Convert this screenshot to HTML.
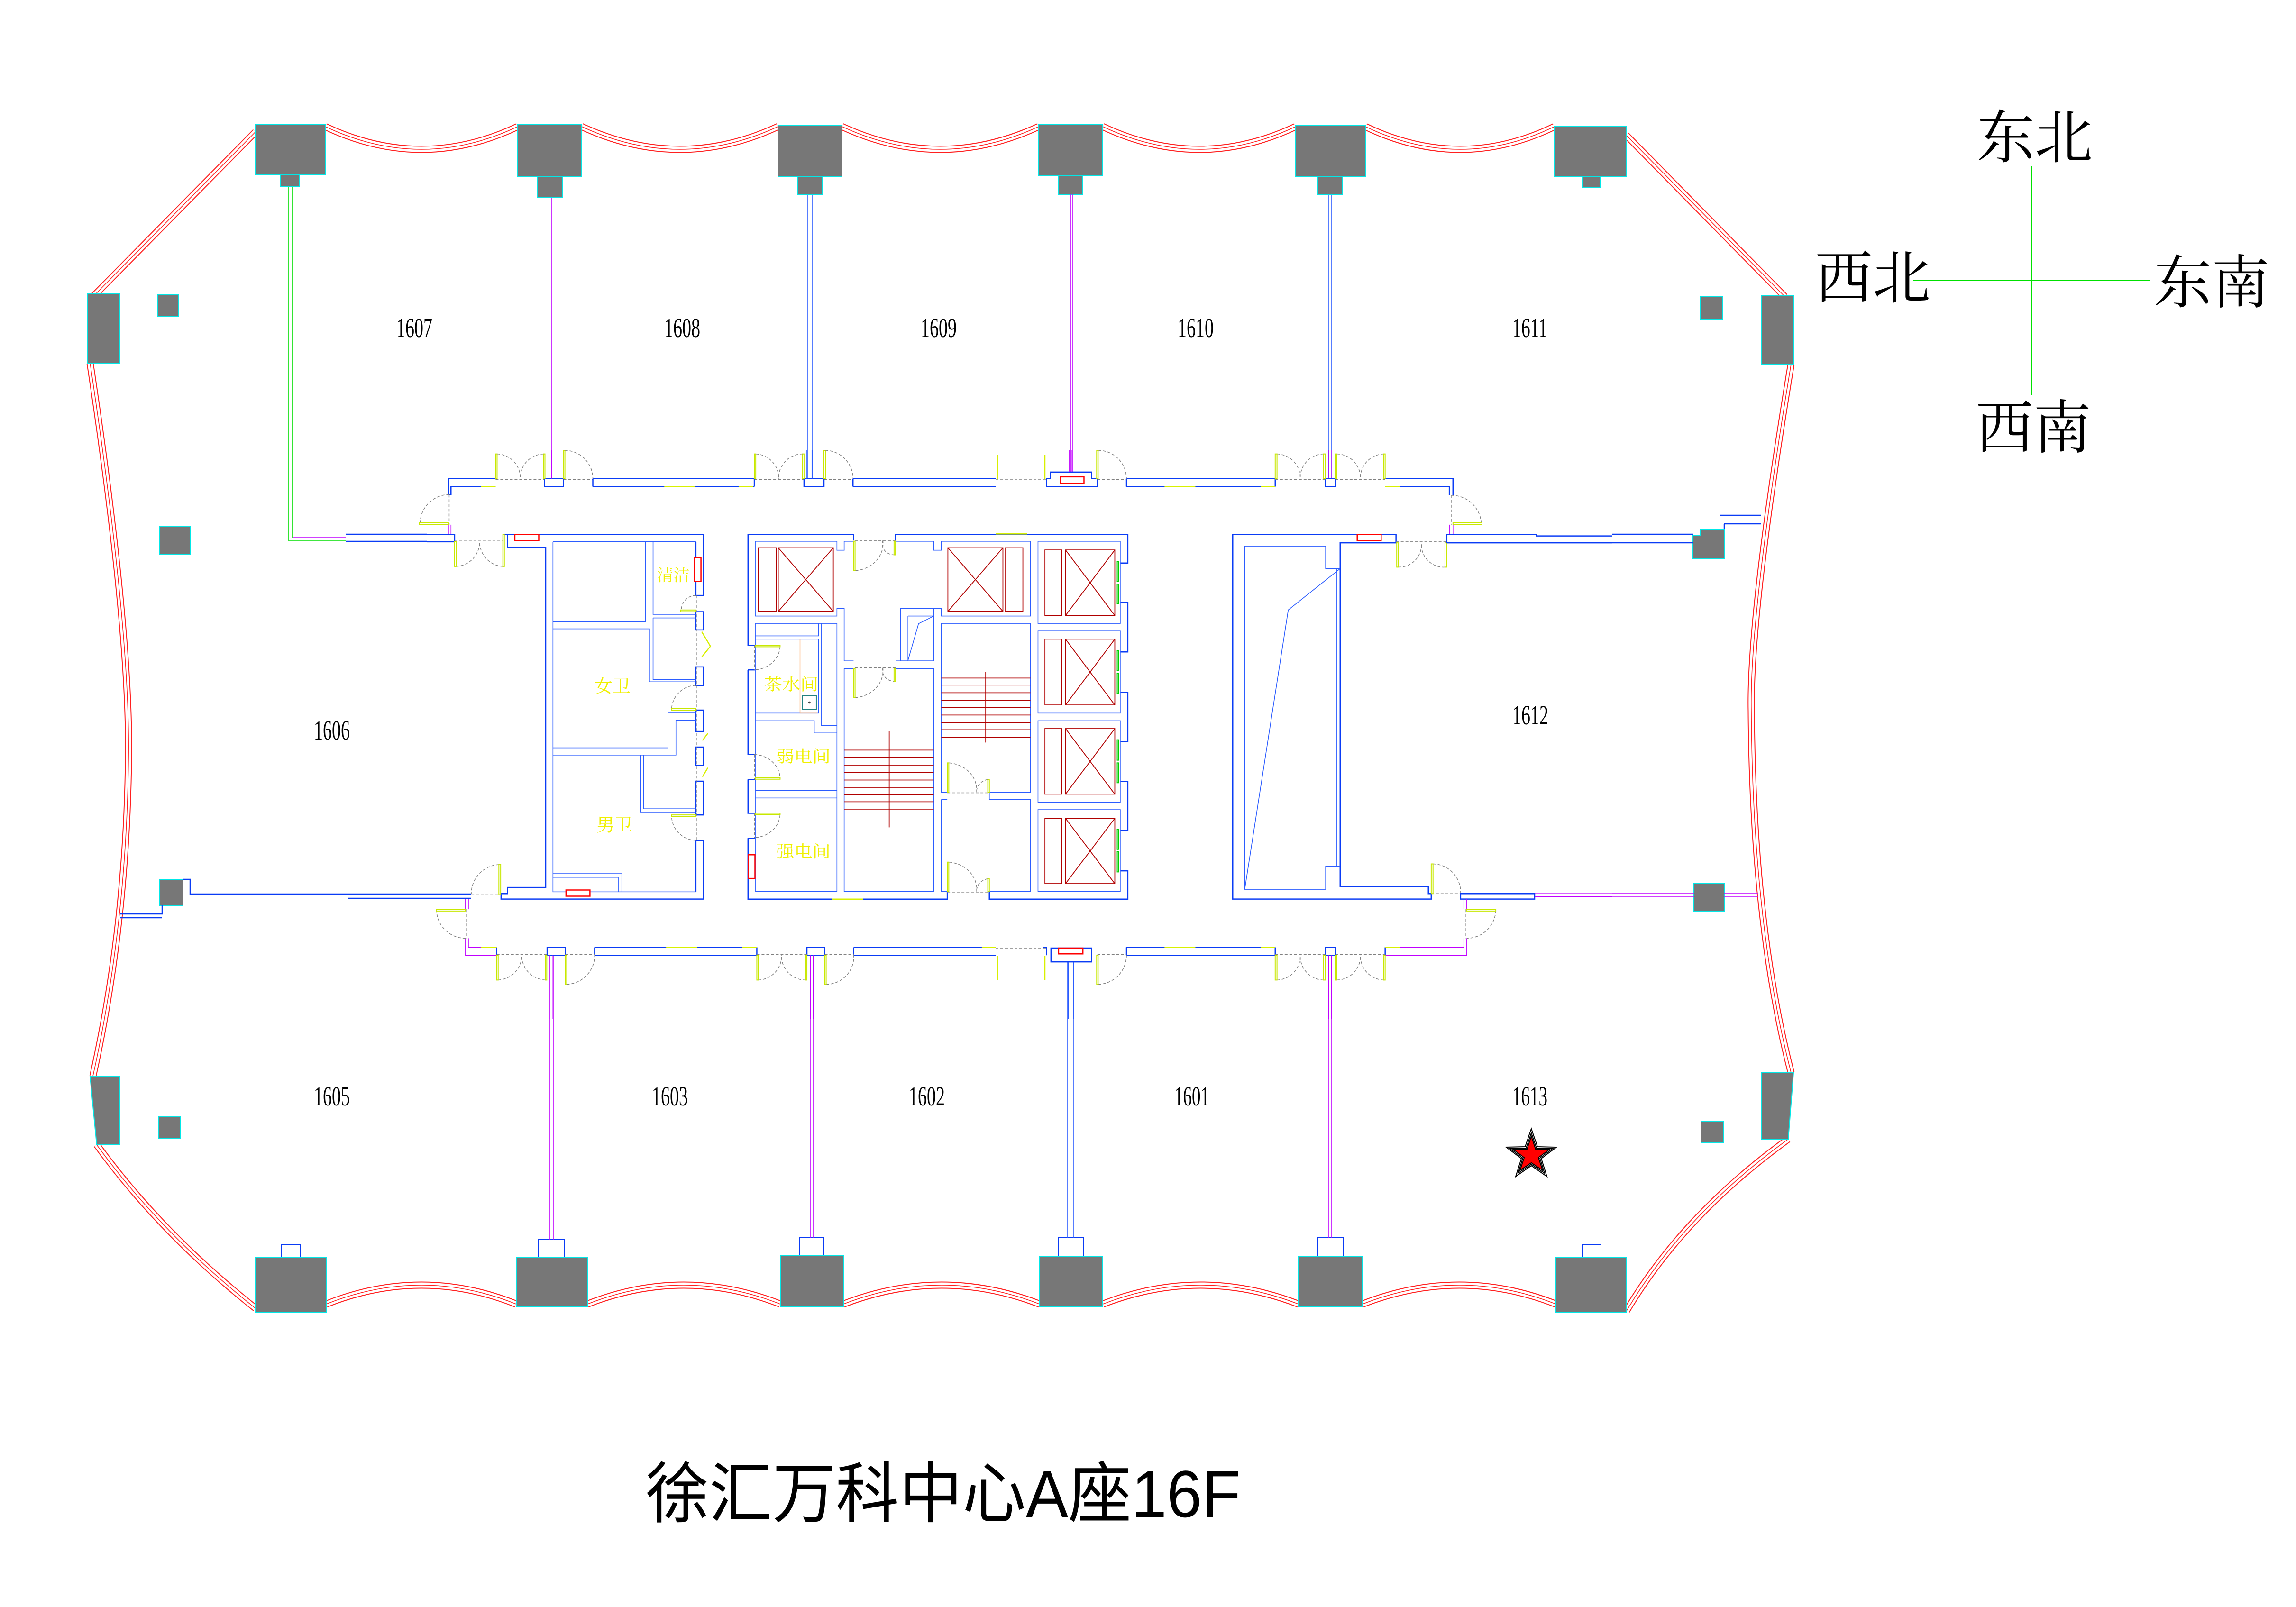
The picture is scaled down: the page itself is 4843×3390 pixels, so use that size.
<!DOCTYPE html>
<html><head><meta charset="utf-8"><style>
html,body{margin:0;padding:0;background:#fff}
svg{display:block}
.w{fill:none;stroke:#0a3cf5;stroke-width:2.5;vector-effect:non-scaling-stroke}
.t{fill:none;stroke:#2b5cff;stroke-width:1.6;vector-effect:non-scaling-stroke}
.m{fill:none;stroke:#c000ff;stroke-width:1.6;vector-effect:non-scaling-stroke}
.g{fill:none;stroke:#00dd00;stroke-width:1.6;vector-effect:non-scaling-stroke}
.y{fill:none;stroke:#d8f000;stroke-width:2.5;vector-effect:non-scaling-stroke}
.yf{fill:#fff;stroke:#c8e800;stroke-width:2;vector-effect:non-scaling-stroke}
.gf{fill:#fff;stroke:#00d000;stroke-width:2;vector-effect:non-scaling-stroke}
.d{fill:none;stroke:#808080;stroke-width:1.5;stroke-dasharray:6 4;vector-effect:non-scaling-stroke}
.r{fill:none;stroke:#b00000;stroke-width:1.8;vector-effect:non-scaling-stroke}
.rb{fill:#fff;stroke:#ff0000;stroke-width:2.5;vector-effect:non-scaling-stroke}
.col{fill:#777;stroke:#00e8e8;stroke-width:2}
.tab{fill:#fff;stroke:#0a3cf5;stroke-width:2}
.num{font-family:"Liberation Serif",serif;font-size:58px;fill:#000}
.yt{font-family:"Liberation Serif","Noto Serif CJK SC",serif;fill:#f0f000}
.cmp{font-family:"Liberation Serif","Noto Serif CJK SC",serif;font-size:122px;fill:#000}
</style></head><body>
<svg width="4843" height="3390" viewBox="0 0 4843 3390" xmlns="http://www.w3.org/2000/svg">
<defs>
<g id="cur">
<path d="M686,267 Q889,363 1092,267"/>
<path d="M1227,267 Q1434,363 1641,267"/>
<path d="M1776,267 Q1983,363 2191,267"/>
<path d="M2326,267 Q2530,363 2733,267"/>
<path d="M2880,267 Q3080,363 3279,267"/>
<path d="M539,278 L198,624"/>
<path d="M3430,285 L3765,626"/>
<path d="M190,766 Q275,1330 271,1600 Q267,1950 196,2270"/>
<path d="M3778,768 Q3690,1300 3694,1500 Q3697,1950 3778,2263"/>
<path d="M204,2415 Q342,2604 539,2760"/>
<path d="M3772,2403 Q3552,2562 3431,2765"/>
<path d="M688,2751 Q889,2671 1089,2751"/>
<path d="M1239,2751 Q1442,2671 1646,2751"/>
<path d="M1779,2751 Q1986,2671 2193,2751"/>
<path d="M2326,2751 Q2532,2671 2739,2751"/>
<path d="M2874,2751 Q3078,2671 3282,2751"/>
</g>
</defs>
<rect width="4843" height="3390" fill="#fff"/>

<use href="#cur" fill="none" stroke="#ff2020" stroke-width="15"/>
<use href="#cur" fill="none" stroke="#fff" stroke-width="11"/>
<use href="#cur" fill="none" stroke="#ff2020" stroke-width="1.6"/>

<rect class="col" x="592" y="360" width="39" height="34"/>
<rect class="col" x="539" y="263" width="147" height="105"/>
<rect class="col" x="1134" y="365" width="52" height="52"/>
<rect class="col" x="1092" y="263" width="135" height="109"/>
<rect class="col" x="1683" y="365" width="52" height="46"/>
<rect class="col" x="1641" y="264" width="135" height="108"/>
<rect class="col" x="2233" y="365" width="51" height="45"/>
<rect class="col" x="2191" y="263" width="135" height="108"/>
<rect class="col" x="2780" y="365" width="52" height="46"/>
<rect class="col" x="2733" y="265" width="147" height="107"/>
<rect class="col" x="3337" y="365" width="39" height="31"/>
<rect class="col" x="3279" y="267" width="151" height="105"/>
<rect class="col" x="184" y="619" width="68" height="147"/>
<rect class="col" x="3716" y="624" width="67" height="144"/>
<polygon class="col" points="190,2271 253,2271 253,2415 204,2415"/>
<polygon class="col" points="3716,2263 3783,2263 3772,2403 3716,2403"/>
<rect class="col" x="333" y="621" width="44" height="46"/>
<rect class="col" x="337" y="1111" width="64" height="58"/>
<rect class="col" x="337" y="1855" width="49" height="55"/>
<rect class="col" x="334" y="2355" width="46" height="46"/>
<rect class="col" x="3587" y="626" width="46" height="47"/>
<polygon class="col" points="3571,1130 3586,1130 3586,1116 3637,1116 3637,1178 3571,1178"/>
<rect class="col" x="3573" y="1863" width="64" height="59"/>
<rect class="col" x="3588" y="2366" width="47" height="44"/>
<rect class="tab" x="593" y="2626" width="41" height="27"/>
<rect class="col" x="539" y="2653" width="149" height="115"/>
<rect class="tab" x="1136" y="2615" width="55" height="38"/>
<rect class="col" x="1089" y="2653" width="150" height="103"/>
<rect class="tab" x="1687" y="2611" width="51" height="37"/>
<rect class="col" x="1646" y="2648" width="133" height="108"/>
<rect class="tab" x="2233" y="2611" width="52" height="39"/>
<rect class="col" x="2193" y="2650" width="133" height="106"/>
<rect class="tab" x="2780" y="2611" width="53" height="39"/>
<rect class="col" x="2739" y="2650" width="135" height="106"/>
<rect class="tab" x="3337" y="2626" width="40" height="27"/>
<rect class="col" x="3282" y="2653" width="149" height="115"/>

<path class="g" d="M609,394 V1141 H730 M617,394 V1134"/>
<path class="m" d="M617,1134 H730"/>
<path class="m" d="M1158,417 V1010 M1163,417 V1010"/>
<path class="t" d="M1703,411 V1010 M1714,411 V1010"/>
<path class="m" d="M2259,410 V995 M2263,410 V995"/>
<path class="t" d="M2802,411 V1010 M2809,411 V1010"/>
<path class="m" d="M1160,2016 V2615 M1167,2016 V2615"/>
<path class="m" d="M1709,2016 V2611 M1716,2016 V2611"/>
<path class="t" d="M2252,2027 V2611 M2264,2027 V2611"/>
<path class="m" d="M2802,2016 V2611 M2808,2016 V2611"/>
<path class="w" d="M730,1127 H900 M730,1142 H900"/>
<path class="w" d="M386,1855 H401 V1886 H994 M733,1895 H994"/>
<path class="w" d="M253,1928 H342 V1910 M253,1936 H342"/>
<path class="w" d="M3400,1127 H3571 M3400,1145 H3571"/>
<path class="w" d="M3637,1105 H3715 M3637,1105 V1116 M3628,1087 H3715"/>
<path class="m" d="M3400,1885 H3573 M3400,1891 H3573 M3637,1884 H3709 M3637,1891 H3709"/>
<path class="d" d="M2100,1012 H2208 M2100,2000 H2208"/>
<path class="y" d="M2104,960 V1010 M2204,960 V1010 M2104,2017 V2067 M2204,2017 V2067"/>

<g transform="translate(900,950) scale(0.7653)">
<path class="w" d="M190,78 H60 V122 H67 V100 H190"/>
<path class="d" d="M190,80 H325 M377,80 H458 M903,80 H1040 M1095,80 H1175"/>
<path class="w" d="M325,78 H377 V100 H325 Z"/>
<path class="m" d="M337,0 V78 M345,0 V78"/>
<path class="w" d="M458,78 H903 M458,100 H903 M458,78 V100 M903,78 V100"/>
<path class="y" d="M150,100 H190 M655,100 H740 M860,100 H900 M1530,100 H1568"/>
<path class="w" d="M1040,78 H1095 V100 H1040 Z"/>
<path class="t" d="M1048,0 V78 M1062,0 V78"/>
<path class="w" d="M1175,78 H1568 M1175,100 H1568 M1175,78 V100"/>
<rect class="yf" x="190" y="10" width="4" height="68"/><rect class="yf" x="322" y="10" width="4" height="68"/>
<rect class="yf" x="377" y="0" width="4" height="78"/><rect class="yf" x="903" y="10" width="4" height="68"/>
<rect class="yf" x="1036" y="10" width="4" height="68"/><rect class="yf" x="1095" y="0" width="4" height="78"/>
<path class="d" d="M194,10 A66,66 0 0 1 258,78 M322,10 A66,66 0 0 0 258,78 M381,0 A78,78 0 0 1 458,78 M907,10 A66,66 0 0 1 970,78 M1036,10 A66,66 0 0 0 970,78 M1099,0 A78,78 0 0 1 1175,78"/>
<path class="d" d="M62,122 V205 M62,122 A80,80 0 0 0 -18,200"/>
<rect class="yf" x="-20" y="199" width="80" height="5"/>
<path class="m" d="M60,205 V232 M67,205 V232"/>
<path class="w" d="M0,232 H77 V252 H0"/>
<path class="d" d="M77,248 H215 M81,320 A68,68 0 0 0 146,252 M210,320 A68,68 0 0 1 146,252"/>
<rect class="yf" x="77" y="252" width="4" height="68"/><rect class="yf" x="210" y="232" width="4" height="88"/>
<path class="w" d="M215,232 H763 V400 H742 V252 M223,232 V268 H328 V1205 H223 V1222 H205 V1237 H763 V1075 H742 V1217"/>
<path class="w" d="M742,445 H763 V495 H742 Z M742,597 H763 V648 H742 Z M742,716 H763 V775 H742 Z M742,818 H763 V868 H742 Z M742,912 H763 V1005 H742 Z"/>
<path class="t" d="M348,252 H603 V472 H348 M624,252 V452 H742 M348,492 H614 V638 H742 M624,462 H742 M624,462 V632 H742 M348,820 H665 V724 H742 M348,840 H687 V744 H742 M590,840 V997 H742 M598,840 V988 H742 M348,252 V1217 H742 M348,1167 H538 V1217 M348,1177 H528 V1217 M348,252 H742"/>
<rect class="rb" x="243" y="232" width="66" height="17"/><rect class="rb" x="738" y="295" width="18" height="66"/><rect class="rb" x="384" y="1212" width="66" height="17"/>
<path class="d" d="M745,400 V1075 M742,400 A40,40 0 0 0 702,440 M742,648 A68,68 0 0 0 675,714 M742,1075 A68,68 0 0 1 675,1007"/>
<rect class="yf" x="700" y="440" width="42" height="5"/><rect class="yf" x="675" y="712" width="67" height="5"/><rect class="yf" x="675" y="1005" width="67" height="5"/>
<path class="y" d="M758,500 L782,540 L758,570 M760,800 L775,780 M760,900 L775,875"/>
<text class="yt" x="635" y="360" font-size="45">清洁</text>
<text class="yt" x="462" y="668" font-size="50">女卫</text>
<text class="yt" x="468" y="1050" font-size="50">男卫</text>
<path class="d" d="M123,1225 H205 M199,1142 A80,80 0 0 0 123,1222"/>
<rect class="yf" x="199" y="1142" width="5" height="83"/>
<path class="m" d="M107,1237 V1265 M115,1237 V1265 M107,1345 V1392 H193 M115,1345 V1370 H193"/>
<path class="d" d="M110,1265 V1345 M107,1345 A80,80 0 0 1 27,1268"/>
<rect class="yf" x="27" y="1265" width="80" height="5"/>
<path class="w" d="M193,1370 V1392 M332,1370 H382 V1392 H332 Z M463,1370 H910 M463,1392 H910 M463,1370 V1392 M910,1370 V1392 M1048,1370 H1097 V1392 H1048 Z M1177,1370 H1568 M1177,1392 H1568 M1177,1370 V1392"/>
<path class="y" d="M150,1370 H193 M660,1370 H745 M870,1370 H910 M1530,1370 H1568"/>
<path class="m" d="M340,1392 V1568 M348,1392 V1568 M1058,1392 V1568 M1066,1392 V1568"/>
<path class="d" d="M193,1390 H332 M382,1390 H463 M910,1390 H1048 M1097,1390 H1177 M197,1460 A68,68 0 0 0 262,1392 M327,1460 A68,68 0 0 1 262,1392 M386,1472 A80,80 0 0 0 463,1392 M914,1460 A66,66 0 0 0 978,1392 M1044,1460 A66,66 0 0 1 978,1392 M1101,1472 A76,76 0 0 0 1177,1392"/>
<rect class="yf" x="193" y="1392" width="4" height="68"/><rect class="yf" x="327" y="1392" width="4" height="68"/><rect class="yf" x="382" y="1392" width="4" height="80"/>
<rect class="yf" x="910" y="1392" width="4" height="68"/><rect class="yf" x="1044" y="1392" width="4" height="68"/><rect class="yf" x="1097" y="1392" width="4" height="80"/>
</g>

<g transform="translate(1500,1050) scale(0.6378,0.5737)">
<path class="w" d="M471,157 V135 H122 V543 H146 M122,633 V944 H146 M122,1036 V1160 H146 M122,1252 V1476 H781 V1448 M920,1448 V1476 H1378 V1372 H1354 M610,157 V135 H1378 V240 H1354 M1354,385 H1378 V567 H1354 M1354,715 H1378 V897 H1354 M1354,1043 H1378 V1224 H1354"/>
<path class="w" d="M122,633 H146 M122,1036 H146 M122,1252 H146"/>
<path class="y" d="M942,133 H1045 M400,1476 H502"/>
<path class="t" d="M146,160 H416 V193 H440 V160 H471 M146,160 V435 H416 V407 H440 V600 H471 M610,600 H736 V407 H761 V435 H1056 V160 H761 V193 H736 V160 H610 M440,628 V1448 H736 V628 H610 M440,628 H471"/>
<path class="r" d="M156,184 H215 V418 H156 Z M222,184 H404 V418 H222 Z M222,184 L404,418 M404,184 L222,418 M783,184 H965 V418 H783 Z M783,184 L965,418 M965,184 L783,418 M972,184 H1031 V418 H972 Z"/>
<path class="t" d="M1081,160 H1353 V462 H1081 Z M1081,490 H1353 V792 H1081 Z M1081,820 H1353 V1120 H1081 Z M1081,1147 H1353 V1448 H1081 Z"/>
<path class="r" d="M1104,192 H1159 V433 H1104 Z M1172,192 H1335 V433 H1172 Z M1172,192 L1335,433 M1335,192 L1172,433 M1104,520 H1159 V762 H1104 Z M1172,520 H1335 V762 H1172 Z M1172,520 L1335,762 M1335,520 L1172,762 M1104,849 H1159 V1090 H1104 Z M1172,849 H1335 V1090 H1172 Z M1172,849 L1335,1090 M1335,849 L1172,1090 M1104,1179 H1159 V1419 H1104 Z M1172,1179 H1335 V1419 H1172 Z M1172,1179 L1335,1419 M1335,1179 L1172,1419"/>
<rect class="gf" x="1343" y="235" width="5" height="73"/><rect class="gf" x="1343" y="318" width="5" height="72"/>
<rect class="gf" x="1343" y="562" width="5" height="73"/><rect class="gf" x="1343" y="645" width="5" height="75"/>
<rect class="gf" x="1343" y="890" width="5" height="75"/><rect class="gf" x="1343" y="975" width="5" height="73"/>
<rect class="gf" x="1343" y="1220" width="5" height="73"/><rect class="gf" x="1343" y="1302" width="5" height="74"/>
<path class="t" d="M781,1083 H761 V462 H1056 V1083 H920 M761,1110 H781 M761,1110 V1448 H781 M920,1448 H1056 V1110 H920 V1083"/>
<path class="r" d="M761,663 H1056 M761,689 H1056 M761,717 H1056 M761,745 H1056 M761,771 H1056 M761,799 H1056 M761,827 H1056 M761,853 H1056 M761,881 H1056 M908,640 V900"/>
<path class="r" d="M440,928 H736 M440,955 H736 M440,983 H736 M440,1010 H736 M440,1038 H736 M440,1065 H736 M440,1092 H736 M440,1118 H736 M440,1145 H736 M589,858 V1212"/>
<path class="t" d="M626,407 H736 V600 H626 Z M651,435 H736 M651,435 V600 M651,598 L686,463 L736,435"/>
<path class="t" d="M146,462 H416 M146,462 V508 H355 V462 M146,520 H355 V792 H146 M364,462 V837 H416 M416,462 V1448 M146,820 H341 V865 H416 M146,1076 H416 M146,1104 H416 M146,1448 H416 M146,508 V1448"/>
<path d="M294,520 V792 H352" fill="none" stroke="#ffb070" stroke-width="1.5" vector-effect="non-scaling-stroke"/>
<rect x="302" y="728" width="46" height="50" fill="none" stroke="#208080" stroke-width="2" vector-effect="non-scaling-stroke"/>
<circle cx="325" cy="753" r="4" fill="#444"/>
<rect class="rb" x="123" y="1313" width="22" height="87"/>
<path class="d" d="M475,157 H610 M568,157 A100,100 0 0 1 476,268 M568,157 A40,40 0 0 0 605,210 M475,625 H610 M568,625 A100,100 0 0 1 476,735 M568,625 A40,40 0 0 0 605,675"/>
<rect class="yf" x="471" y="160" width="5" height="108"/><rect class="yf" x="605" y="160" width="5" height="50"/>
<rect class="yf" x="471" y="628" width="5" height="107"/><rect class="yf" x="605" y="628" width="5" height="47"/>
<path class="d" d="M143,543 V633 M228,548 A90,90 0 0 1 143,633 M143,944 V1036 M143,944 A90,90 0 0 1 228,1033 M143,1160 V1252 M228,1166 A90,90 0 0 1 143,1250"/>
<rect class="yf" x="146" y="543" width="82" height="5"/><rect class="yf" x="146" y="1030" width="82" height="5"/><rect class="yf" x="146" y="1160" width="82" height="5"/>
<path class="d" d="M781,1085 H920 M787,975 A100,100 0 0 1 878,1083 M915,1036 A45,45 0 0 0 878,1083 M781,1450 H920 M787,1340 A100,100 0 0 1 878,1448 M915,1401 A45,45 0 0 0 878,1448"/>
<rect class="yf" x="781" y="975" width="5" height="108"/><rect class="yf" x="915" y="1036" width="5" height="47"/>
<rect class="yf" x="781" y="1340" width="5" height="108"/><rect class="yf" x="915" y="1401" width="5" height="47"/>
<text class="yt" x="175" y="708" font-size="60">茶水间</text>
<text class="yt" x="215" y="973" font-size="60">弱电间</text>
<text class="yt" x="215" y="1322" font-size="60">强电间</text>
</g>

<g transform="translate(2200,950) scale(0.7653)">
<path class="w" d="M10,100 V78 H20 V60 H134 V78 H150 V100 Z"/>
<rect class="rb" x="48" y="73" width="65" height="18"/>
<path class="m" d="M72,0 V60 M80,0 V60 M788,0 V78 M796,0 V78"/>
<path class="w" d="M230,78 H640 M230,100 H640 M230,78 V100 M640,78 V100 M778,78 H806 V100 H778 Z M943,78 H1130 V124 M943,100 H1120 V124"/>
<path class="y" d="M335,100 H420 M600,100 H640 M943,100 H985"/>
<path class="d" d="M150,80 H230 M152,0 A78,78 0 0 1 230,78 M640,80 H778 M806,80 H943 M645,10 A66,66 0 0 1 709,78 M773,10 A66,66 0 0 0 709,78 M810,10 A66,66 0 0 1 875,78 M939,10 A66,66 0 0 0 875,78 M1125,124 V205 M1125,124 A82,82 0 0 1 1208,202"/>
<rect class="yf" x="148" y="0" width="4" height="78"/>
<rect class="yf" x="640" y="10" width="5" height="68"/><rect class="yf" x="773" y="10" width="5" height="68"/>
<rect class="yf" x="806" y="10" width="4" height="68"/><rect class="yf" x="939" y="10" width="4" height="68"/>
<rect class="yf" x="1130" y="200" width="80" height="5"/>
<path class="m" d="M1120,205 V232 M1130,205 V232"/>
<path class="w" d="M523,232 H973 V255 H819 V1203 H1062 V1222 H1070 V1237 H523 Z"/>
<rect class="rb" x="866" y="232" width="66" height="17"/>
<path class="t" d="M556,264 H779 V326 H819 M556,264 V1210 H779 V1147 H819 M810,326 V1147 M556,1210 L676,440 L819,326"/>
<path class="d" d="M973,252 H1113 M980,322 A62,62 0 0 0 1043,255 M1108,322 A62,62 0 0 1 1043,255"/>
<rect class="yf" x="975" y="255" width="5" height="67"/><rect class="yf" x="1108" y="255" width="5" height="67"/>
<path class="w" d="M1113,255 V232 H1360 V236 H1568 M1113,255 H1568"/>
<path class="d" d="M1070,1222 H1151 M1075,1140 A78,78 0 0 1 1151,1222"/>
<rect class="yf" x="1070" y="1140" width="5" height="82"/>
<path class="w" d="M1151,1222 H1355 V1237 H1151 Z"/>
<path class="m" d="M1355,1222 H1568 M1355,1230 H1568 M1160,1237 V1265 M1168,1237 V1265 M1168,1345 V1392 H943 M1160,1345 V1370 H943"/>
<path class="d" d="M1164,1265 V1345 M1248,1268 A80,80 0 0 1 1168,1345"/>
<rect class="yf" x="1168" y="1265" width="80" height="5"/>
<path class="w" d="M943,1370 V1392 M778,1370 H806 V1392 H778 Z M230,1370 H640 M230,1392 H640 M230,1370 V1392 M640,1370 V1392 M22,1372 H134 V1410 H22 Z M0,1370 H10 V1392"/>
<path class="y" d="M335,1370 H420 M600,1370 H640 M943,1370 H985"/>
<rect class="rb" x="43" y="1372" width="67" height="16"/>
<path class="m" d="M788,1392 V1568 M796,1392 V1568"/>
<path class="t" d="M70,1410 V1568 M85,1410 V1568"/>
<path class="d" d="M150,1390 H230 M152,1472 A80,80 0 0 0 230,1392 M640,1390 H778 M806,1390 H943 M645,1460 A66,66 0 0 0 709,1392 M773,1460 A66,66 0 0 1 709,1392 M810,1460 A66,66 0 0 0 875,1392 M939,1460 A66,66 0 0 1 875,1392"/>
<rect class="yf" x="148" y="1392" width="4" height="80"/>
<rect class="yf" x="640" y="1392" width="5" height="68"/><rect class="yf" x="773" y="1392" width="5" height="68"/>
<rect class="yf" x="806" y="1392" width="4" height="68"/><rect class="yf" x="939" y="1392" width="4" height="68"/>
</g>

<text class="num" x="836" y="711" textLength="76" lengthAdjust="spacingAndGlyphs">1607</text>
<text class="num" x="1401" y="711" textLength="76" lengthAdjust="spacingAndGlyphs">1608</text>
<text class="num" x="1942" y="711" textLength="76" lengthAdjust="spacingAndGlyphs">1609</text>
<text class="num" x="2484" y="711" textLength="76" lengthAdjust="spacingAndGlyphs">1610</text>
<text class="num" x="3190" y="711" textLength="74" lengthAdjust="spacingAndGlyphs">1611</text>
<text class="num" x="662" y="1560" textLength="76" lengthAdjust="spacingAndGlyphs">1606</text>
<text class="num" x="3190" y="1528" textLength="76" lengthAdjust="spacingAndGlyphs">1612</text>
<text class="num" x="662" y="2332" textLength="76" lengthAdjust="spacingAndGlyphs">1605</text>
<text class="num" x="1375" y="2332" textLength="76" lengthAdjust="spacingAndGlyphs">1603</text>
<text class="num" x="1917" y="2332" textLength="76" lengthAdjust="spacingAndGlyphs">1602</text>
<text class="num" x="2477" y="2332" textLength="74" lengthAdjust="spacingAndGlyphs">1601</text>
<text class="num" x="3190" y="2332" textLength="74" lengthAdjust="spacingAndGlyphs">1613</text>

<g transform="translate(3230,2437)">
<polygon points="0,-56 13,-18 53,-17 21,7 33,45 0,22 -33,45 -21,7 -53,-17 -13,-18" fill="#fff" stroke="#000" stroke-width="2"/>
<polygon points="0,-47 11,-15 45,-14 18,6 28,38 0,19 -28,38 -18,6 -45,-14 -11,-15" fill="#fff" stroke="#000" stroke-width="2"/>
<polygon points="0,-40 9,-13 38,-12 15,5 24,32 0,16 -24,32 -15,5 -38,-12 -9,-13" fill="#ff0000" stroke="#000" stroke-width="2"/>
</g>

<path d="M4286,351 V833 M4036,591 H4535" stroke="#00e000" stroke-width="2" fill="none"/>
<text class="cmp" x="4170" y="333">东北</text>
<text class="cmp" x="3828" y="629">西北</text>
<text class="cmp" x="4543" y="639">东南</text>
<text class="cmp" x="4167" y="945">西南</text>

<text x="1362" y="3200" font-family="'Liberation Sans','Noto Sans CJK SC',sans-serif" font-size="140" font-weight="normal" textLength="1255" lengthAdjust="spacingAndGlyphs" fill="#000">徐汇万科中心A座16F</text>
</svg>
</body></html>
